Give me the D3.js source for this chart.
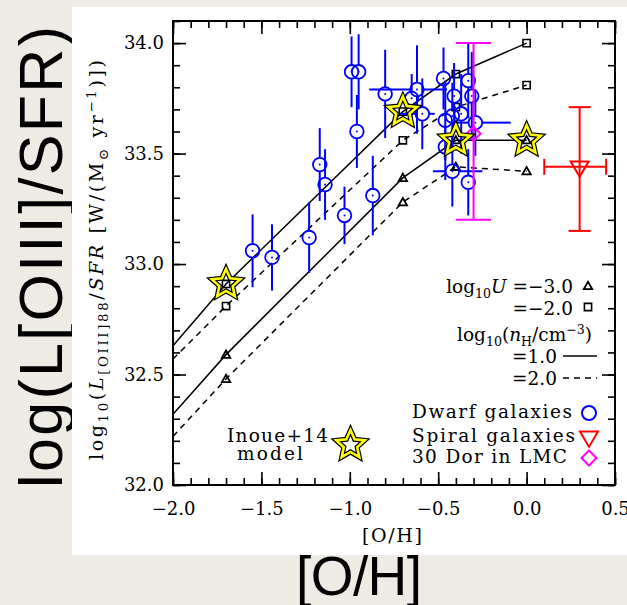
<!DOCTYPE html>
<html>
<head>
<meta charset="utf-8">
<script src="https://cdn.jsdelivr.net/npm/d3@7"></script>
<style>
body { margin: 0; background: #eeebe5; }
svg { display: block; }
</style>
</head>
<body>
<script>
// model grid: [O/H] values of the Inoue+14 curves
var modelOH = [-2.0, -1.7, -0.7, -0.4, 0.0];
var curveU2n1 = [32.63, 32.91, 33.69, 33.86, 34.00];   // logU=-2, nH=1
var curveU2n2 = [32.57, 32.81, 33.56, 33.71, 33.81];   // logU=-2, nH=2
var curveU3n1 = [32.32, 32.59, 33.39, 33.56, 33.56];   // logU=-3, nH=1
var curveU3n2 = [32.22, 32.48, 33.28, 33.44, 33.42];   // logU=-3, nH=2

// stars mark the fiducial model
var starOH = [-1.7, -0.7, -0.4, 0.0];
var starL = [32.91, 33.69, 33.56, 33.56];

// dwarf galaxies
var dwarfOH  = [-1.55, -1.44, -1.23, -1.17, -1.14, -1.03, -0.99, -0.95, -0.96, -0.87,
                -0.80, -0.65, -0.62, -0.59, -0.47, -0.41, -0.33, -0.31, -0.37, -0.46,
                -0.42, -0.29, -0.46, -0.42, -0.33];
var dwarfL   = [33.06, 33.03, 33.12, 33.45, 33.36, 33.22, 33.87, 33.87, 33.60, 33.31,
                33.77, 33.75, 33.79, 33.68, 33.84, 33.76, 33.83, 33.76, 33.68, 33.65,
                33.67, 33.64, 33.53, 33.42, 33.37];
var dwarfErr = [0.165, 0.15, 0.16, 0.165, 0.16, 0.13, 0.16, 0.17, 0.165, 0.18,
                0.2, 0.11, 0.2, 0.16, 0.14, 0.15, 0.17, 0.2, 0.18, 0.18,
                0.15, 0.15, 0.15, 0.16, 0.15];
var dwarfOHLo = [null, null, null, null, null, null, null, null, null, null,
                 null, null, -0.89, -0.72, null, null, null, null, null, null,
                 null, -0.40, null, -0.53, null];
var dwarfOHHi = [null, null, null, null, null, null, null, null, null, null,
                 null, null, -0.45, -0.52, null, null, null, null, null, null,
                 null, -0.09, null, -0.25, null];

// spiral galaxies (one averaged point)
var spiralOH = 0.30, spiralOHLo = 0.10, spiralOHHi = 0.45;
var spiralL = 33.44, spiralLLo = 33.15, spiralLHi = 33.71;

// 30 Dor in the LMC
var dorOH = -0.30, dorL = 33.59, dorLLo = 33.20, dorLHi = 34.00;

// axis ticks
var xMajor = [-2.0, -1.5, -1.0, -0.5, 0.0, 0.5];
var yMajor = [32.0, 32.5, 33.0, 33.5, 34.0];
var xMinor = d3.range(0, 26).map(function(i) { return -2 + i / 10; });
var yMinor = d3.range(0, 22).map(function(i) { return 32 + i / 10; });

var width = 627, height = 605;
var serif = "DejaVu Serif";

var svg = d3.select("body").append("svg")
    .attr("width", width)
    .attr("height", height);

// big outer labels (sit on the grey backdrop)
svg.append("text")
    .attr("transform", "translate(62,257) rotate(-90)")
    .attr("text-anchor", "middle")
    .attr("font-family", "Liberation Sans")
    .attr("font-size", 61)
    .attr("textLength", 462)
    .text("log(L[OIII]/SFR)");

// white panel holding the figure
svg.append("rect")
    .attr("x", 72).attr("y", 7)
    .attr("width", 555).attr("height", 548)
    .attr("fill", "#fff");

svg.append("text")
    .attr("x", 359).attr("y", 595)
    .attr("text-anchor", "middle")
    .attr("font-family", "Liberation Sans")
    .attr("font-size", 55)
    .attr("textLength", 126)
    .text("[O/H]");

// scales
var x = d3.scaleLinear().domain([-2, 0.5]).range([173, 615]);
var y = d3.scaleLinear().domain([32, 34.1]).range([485, 21]);

// axes: major ticks with labels, minor ticks without
function styleAxis(g) {
  g.select(".domain").remove();
  g.selectAll("line").attr("stroke", "#000").attr("stroke-width", 1.6);
  g.selectAll("text").attr("font-family", serif).attr("font-size", 18).attr("fill", "#000");
}

svg.append("g").attr("transform", "translate(0,485)")
    .call(d3.axisBottom(x).tickValues(xMajor).tickSize(-13).tickPadding(17).tickFormat(d3.format(".1f")))
    .call(styleAxis);
svg.append("g").attr("transform", "translate(0,485)")
    .call(d3.axisBottom(x).tickValues(xMinor).tickSize(-7).tickFormat(""))
    .call(styleAxis);
svg.append("g").attr("transform", "translate(0,21)")
    .call(d3.axisTop(x).tickValues(xMajor).tickSize(-13).tickFormat(""))
    .call(styleAxis);
svg.append("g").attr("transform", "translate(0,21)")
    .call(d3.axisTop(x).tickValues(xMinor).tickSize(-7).tickFormat(""))
    .call(styleAxis);
svg.append("g").attr("transform", "translate(173,0)")
    .call(d3.axisLeft(y).tickValues(yMajor).tickSize(-13).tickPadding(9).tickFormat(d3.format(".1f")))
    .call(styleAxis);
svg.append("g").attr("transform", "translate(173,0)")
    .call(d3.axisLeft(y).tickValues(yMinor).tickSize(-7).tickFormat(""))
    .call(styleAxis);
svg.append("g").attr("transform", "translate(615,0)")
    .call(d3.axisRight(y).tickValues(yMajor).tickSize(-13).tickFormat(""))
    .call(styleAxis);
svg.append("g").attr("transform", "translate(615,0)")
    .call(d3.axisRight(y).tickValues(yMinor).tickSize(-7).tickFormat(""))
    .call(styleAxis);

svg.append("rect")
    .attr("x", x(-2)).attr("y", y(34.1))
    .attr("width", x(0.5) - x(-2)).attr("height", y(32) - y(34.1))
    .attr("fill", "none").attr("stroke", "#000").attr("stroke-width", 2);

// axis titles, with sub/superscripts as tspans
function richText(sel, parts, size, small) {
  var shift = 0;
  small = small || 0.68;
  parts.forEach(function(p) {
    var t = sel.append("tspan").text(p[0]);
    var target = p[1] == "sub" ? size * 0.27 : p[1] == "sup" ? -size * 0.38 : 0;
    if (target != shift) { t.attr("dy", target - shift); shift = target; }
    if (p[1] == "sub" || p[1] == "sup") t.attr("font-size", size * small);
    if (p[1] == "it") t.attr("font-style", "italic");
  });
}

var yTitle = svg.append("text")
    .attr("transform", "translate(103,260) rotate(-90)")
    .attr("text-anchor", "middle")
    .attr("font-family", serif)
    .attr("font-size", 19)
    .attr("textLength", 400);
richText(yTitle, [["log", ""], ["10", "sub"], ["(", ""], ["L", "it"], ["[OIII]88", "sub"],
                  ["/", ""], ["SFR", "it"], [" [W/(M", ""], ["\u2299", "sub"], [" yr", ""],
                  ["\u22121", "sup"], [")])", ""]], 19, 0.7);

svg.append("text")
    .attr("x", 392).attr("y", 542)
    .attr("text-anchor", "middle")
    .attr("font-family", serif)
    .attr("font-size", 19)
    .attr("textLength", 60)
    .text("[O/H]");

// model curves
var line = d3.line()
    .x(function(d) { return x(d[0]); })
    .y(function(d) { return y(d[1]); });

var curves = [
  {v: curveU2n1, dash: null},
  {v: curveU2n2, dash: "6,5"},
  {v: curveU3n1, dash: null},
  {v: curveU3n2, dash: "6,5"}
];
curves.forEach(function(c) {
  svg.append("path")
      .datum(d3.zip(modelOH, c.v))
      .attr("d", line)
      .attr("fill", "none")
      .attr("stroke", "#000")
      .attr("stroke-width", 1.5)
      .attr("stroke-dasharray", c.dash);
});

// marker shapes
function squarePath(cx, cy, s) {
  return "M" + (cx - s) + "," + (cy - s) + "h" + 2 * s + "v" + 2 * s + "h" + (-2 * s) + "Z";
}
function triUpPath(cx, cy, s) {
  return "M" + cx + "," + (cy - s) + "L" + (cx + s) + "," + (cy + s * 0.75) + "L" + (cx - s) + "," + (cy + s * 0.75) + "Z";
}
function triDownPath(cx, cy, s) {
  return "M" + (cx - s) + "," + (cy - s * 0.6) + "L" + (cx + s) + "," + (cy - s * 0.6) + "L" + cx + "," + (cy + s * 1.1) + "Z";
}
function diamondPath(cx, cy, s) {
  return "M" + cx + "," + (cy - s) + "L" + (cx + s) + "," + cy + "L" + cx + "," + (cy + s) + "L" + (cx - s) + "," + cy + "Z";
}
function starPath(cx, cy, R, r) {
  var pts = d3.range(10).map(function(i) {
    var a = -Math.PI / 2 + i * Math.PI / 5, rad = i % 2 ? r : R;
    return [cx + rad * Math.cos(a), cy + rad * Math.sin(a)];
  });
  return "M" + pts.join("L") + "Z";
}

// model markers: squares for logU=-2, triangles for logU=-3 (skip the -2.0 end point)
[curveU2n1, curveU2n2].forEach(function(v) {
  modelOH.forEach(function(oh, i) {
    if (i == 0) return;
    svg.append("path").attr("d", squarePath(x(oh), y(v[i]), 3.6))
        .attr("fill", "none").attr("stroke", "#000").attr("stroke-width", 1.6);
  });
});
[curveU3n1, curveU3n2].forEach(function(v) {
  modelOH.forEach(function(oh, i) {
    if (i == 0) return;
    svg.append("path").attr("d", triUpPath(x(oh), y(v[i]), 4.2))
        .attr("fill", "none").attr("stroke", "#000").attr("stroke-width", 1.8);
  });
});

// dwarf galaxies: open circles with error bars
var blue = "#0000ff", r = 6.8;
var dwarf = svg.append("g").attr("stroke", blue).attr("fill", "none").attr("stroke-width", 2);
dwarfOH.forEach(function(oh, i) {
  var cx = x(oh), cy = y(dwarfL[i]);
  var top = y(dwarfL[i] + dwarfErr[i]), bot = y(dwarfL[i] - dwarfErr[i]);
  dwarf.append("line").attr("x1", cx).attr("x2", cx).attr("y1", top).attr("y2", cy - r);
  dwarf.append("line").attr("x1", cx).attr("x2", cx).attr("y1", cy + r).attr("y2", bot);
  if (dwarfOHLo[i] != null) {
    dwarf.append("line").attr("y1", cy).attr("y2", cy).attr("x1", x(dwarfOHLo[i])).attr("x2", cx - r);
    dwarf.append("line").attr("y1", cy).attr("y2", cy).attr("x1", cx + r).attr("x2", x(dwarfOHHi[i]));
  }
  dwarf.append("circle").attr("cx", cx).attr("cy", cy).attr("r", r).attr("stroke-width", 1.8);
  dwarf.append("circle").attr("cx", cx).attr("cy", cy).attr("r", 1).attr("fill", blue).attr("stroke", "none");
});

// 30 Dor
var magenta = "#ff00ff";
var dor = svg.append("g").attr("stroke", magenta).attr("fill", "none").attr("stroke-width", 2);
dor.append("line").attr("x1", x(dorOH)).attr("x2", x(dorOH)).attr("y1", y(dorLHi)).attr("y2", y(dorLLo));
[dorLHi, dorLLo].forEach(function(v) {
  dor.append("line").attr("x1", x(dorOH) - 17.5).attr("x2", x(dorOH) + 17.5).attr("y1", y(v)).attr("y2", y(v));
});
dor.append("path").attr("d", diamondPath(x(dorOH), y(dorL), 7));

// spiral galaxies
var red = "#ff0000";
var sp = svg.append("g").attr("stroke", red).attr("fill", "none").attr("stroke-width", 2);
sp.append("line").attr("x1", x(spiralOH)).attr("x2", x(spiralOH)).attr("y1", y(spiralLHi)).attr("y2", y(spiralLLo));
[spiralLHi, spiralLLo].forEach(function(v) {
  sp.append("line").attr("x1", x(spiralOH) - 11).attr("x2", x(spiralOH) + 11).attr("y1", y(v)).attr("y2", y(v));
});
sp.append("line").attr("x1", x(spiralOHLo)).attr("x2", x(spiralOHHi)).attr("y1", y(spiralL)).attr("y2", y(spiralL));
[spiralOHLo, spiralOHHi].forEach(function(v) {
  sp.append("line").attr("x1", x(v)).attr("x2", x(v)).attr("y1", y(spiralL) - 8).attr("y2", y(spiralL) + 8);
});
sp.append("path").attr("d", triDownPath(x(spiralOH), y(spiralL), 9));

// Inoue+14 model stars: yellow band with black edges
function drawStar(cx, cy) {
  svg.append("path").attr("d", starPath(cx, cy, 15, 7))
      .attr("fill", "none").attr("stroke", "#000").attr("stroke-width", 5).attr("stroke-linejoin", "miter");
  svg.append("path").attr("d", starPath(cx, cy, 15, 7))
      .attr("fill", "none").attr("stroke", "#ffff00").attr("stroke-width", 2.6).attr("stroke-linejoin", "miter");
}
starOH.forEach(function(oh, i) { drawStar(x(oh), y(starL[i])); });

// legend (upper right block)
var leg = svg.append("g").attr("font-family", serif).attr("font-size", 18.5).attr("fill", "#000");
var t1 = leg.append("text").attr("x", 573).attr("y", 293).attr("text-anchor", "end");
richText(t1, [["log", ""], ["10", "sub"], ["U", "it"], [" =\u22123.0", ""]], 18.5);
leg.append("text").attr("x", 573).attr("y", 315).attr("text-anchor", "end").text("=\u22122.0");
var t3 = leg.append("text").attr("x", 592).attr("y", 341).attr("text-anchor", "end");
richText(t3, [["log", ""], ["10", "sub"], ["(", ""], ["n", "it"], ["H", "sub"], ["/cm", ""], ["\u22123", "sup"], [")", ""]], 18.5);
leg.append("text").attr("x", 557).attr("y", 363).attr("text-anchor", "end").text("=1.0");
leg.append("text").attr("x", 557).attr("y", 385).attr("text-anchor", "end").text("=2.0");

svg.append("path").attr("d", triUpPath(588, 286, 4.2)).attr("fill", "none").attr("stroke", "#000").attr("stroke-width", 1.8);
svg.append("path").attr("d", squarePath(588, 307, 3.6)).attr("fill", "none").attr("stroke", "#000").attr("stroke-width", 1.6);
svg.append("line").attr("x1", 563).attr("x2", 597).attr("y1", 356).attr("y2", 356).attr("stroke", "#000").attr("stroke-width", 1.5);
svg.append("line").attr("x1", 563).attr("x2", 597).attr("y1", 378).attr("y2", 378).attr("stroke", "#000").attr("stroke-width", 1.5).attr("stroke-dasharray", "6,5");

// legend (observations)
var obs = [
  {label: "Dwarf galaxies", y: 418, len: 160},
  {label: "Spiral galaxies", y: 442, len: 163},
  {label: "30 Dor in LMC", y: 463, len: 155}
];
obs.forEach(function(o) {
  leg.append("text").attr("x", 412).attr("y", o.y).attr("textLength", o.len).text(o.label);
});
svg.append("circle").attr("cx", 589).attr("cy", 413).attr("r", 7).attr("fill", "none").attr("stroke", blue).attr("stroke-width", 2);
svg.append("path").attr("d", triDownPath(589, 437, 9)).attr("fill", "none").attr("stroke", red).attr("stroke-width", 2);
svg.append("path").attr("d", diamondPath(589, 458, 7.5)).attr("fill", "none").attr("stroke", magenta).attr("stroke-width", 2);

// legend (model star)
leg.append("text").attr("x", 227).attr("y", 442).attr("textLength", 101).text("Inoue+14");
leg.append("text").attr("x", 237).attr("y", 460).attr("textLength", 66).text("model");
drawStar(350.5, 445);
</script>
</body>
</html>
